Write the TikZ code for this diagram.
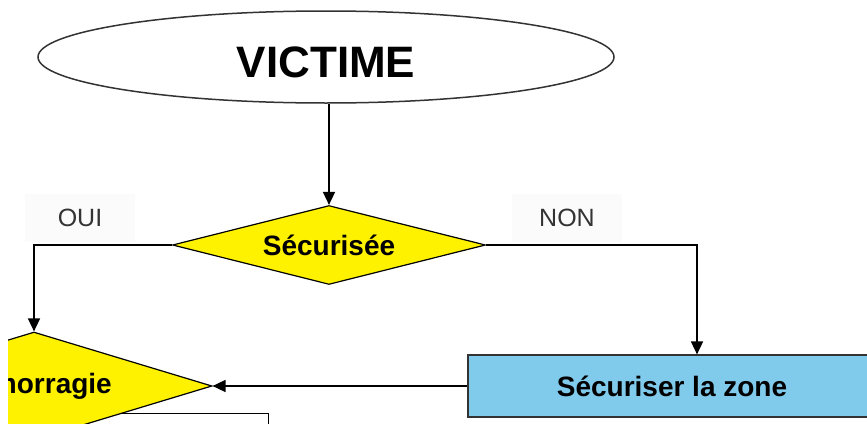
\documentclass[tikz,border=0pt]{standalone}
\usepackage{fontspec}
\setmainfont{Liberation Sans}
\usepackage{tikz}
\usetikzlibrary{arrows.meta}
\usetikzlibrary{shapes.geometric}
\usetikzlibrary{positioning}
\definecolor{zoneblue}{RGB}{128,202,236}
\tikzset{
    start nodes/.style={
        ellipse,
        draw=black!80,
        line width=1.5pt,
        minimum width=576pt,
        minimum height=92pt,
        inner sep=0pt,
        font=\fontsize{44}{48}\selectfont\bfseries,
        text height=42pt
    },
    test nodes/.style={
        diamond,
        draw,
        fill=yellow,
        line width=1.2pt,
        aspect=4,
        inner sep=0pt,
        font=\fontsize{28}{32}\selectfont\bfseries
    },
    action nodes/.style={
        rectangle,
        draw=black!80,
        fill=zoneblue,
        line width=1.2pt,
        font=\fontsize{28}{32}\selectfont\bfseries
    },
    answer nodes/.style={
        fill=black!1.5,
        text=black!80,
        minimum width=110pt,
        minimum height=48pt,
        font=\fontsize{25}{30}\selectfont
    },
    flow/.style={
        -{Triangle[length=13pt,width=12pt]},
        line width=1.6pt
    }
}

\begin{document}
\begin{tikzpicture}[x=1pt,y=-1pt]
    \useasboundingbox (0,0) rectangle (867,423);
    \clip (8,0) rectangle (867,423);
    \node[answer nodes] (oui) at (80,218) {OUI};
    \node[answer nodes] (non) at (567,218) {NON};
    \node[start nodes] (victime) at (326,57) {VICTIME};
    \node[test nodes, minimum width=313pt, minimum height=79pt] (secu) at (329,245) {Sécurisée};
    % boite suivante, derriere le losange
    \node[draw, line width=1.2pt, fill=white, minimum width=400pt, minimum height=100pt, anchor=north east] (suite) at (269,413) {};
    \node[test nodes, minimum width=356pt, minimum height=108pt] (hemo) at (34,386) {Hémorragie};
    \node[action nodes, minimum width=408pt, minimum height=62pt] (zone) at (672,386) {Sécuriser la zone};
    \draw[flow] (secu.north |- victime.south) -- (secu.north);
    \draw[flow] (secu.west) -| (hemo.north);
    \draw[flow] (secu.east) -| ([xshift=25pt]zone.north);
    \draw[flow] (zone.west) -- (hemo.east);
\end{tikzpicture}
\end{document}
